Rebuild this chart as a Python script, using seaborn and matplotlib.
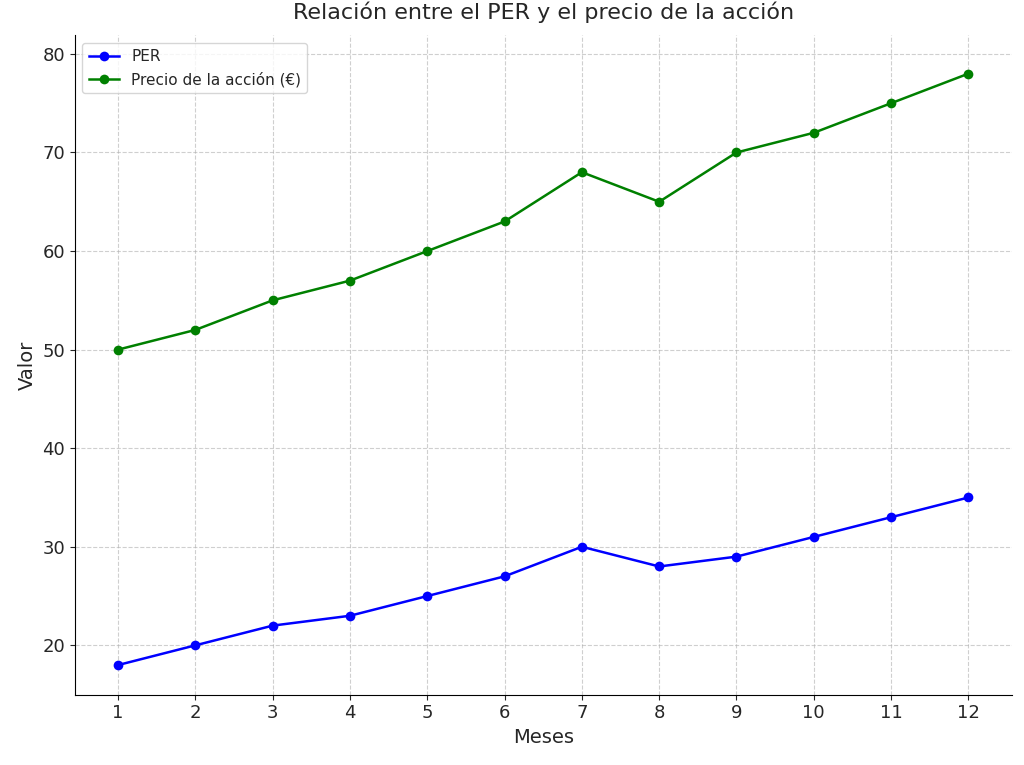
import matplotlib
matplotlib.use("Agg")
import matplotlib.pyplot as plt
import seaborn as sns
import pandas as pd

meses = list(range(1, 13))
per = [18, 20, 22, 23, 25, 27, 30, 28, 29, 31, 33, 35]
precio = [50, 52, 55, 57, 60, 63, 68, 65, 70, 72, 75, 78]

df = pd.DataFrame({"Meses": meses, "PER": per, "Precio": precio})

txt = "#262626"
plt.rcParams.update({"text.color": txt, "axes.labelcolor": txt,
                     "xtick.color": txt, "ytick.color": txt})
fig = plt.figure(figsize=(10.24, 7.65), dpi=100)
ax = fig.add_axes([0.073, 0.092, 0.915, 0.862])
sns.lineplot(data=df, x="Meses", y="PER", ax=ax, color="blue", marker="o",
             markersize=7, markeredgewidth=0, linewidth=1.8, label="PER")
sns.lineplot(data=df, x="Meses", y="Precio", ax=ax, color="green", marker="o",
             markersize=7, markeredgewidth=0, linewidth=1.8, label="Precio de la acción (€)")
ax.set_xticks(meses)
ax.set_ylim(15, 81.9)
ax.set_xlim(0.44, 12.56)
ax.grid(True, linestyle="--", alpha=0.6)
ax.spines["top"].set_visible(False)
ax.spines["right"].set_visible(False)
ax.tick_params(labelsize=13)
ax.set_xlabel("Meses", fontsize=14)
ax.set_ylabel("Valor", fontsize=14)
ax.set_title("Relación entre el PER y el precio de la acción", fontsize=16, pad=12)
ax.legend(loc="upper left", fontsize=11)
fig.savefig("out.png", dpi=100)
